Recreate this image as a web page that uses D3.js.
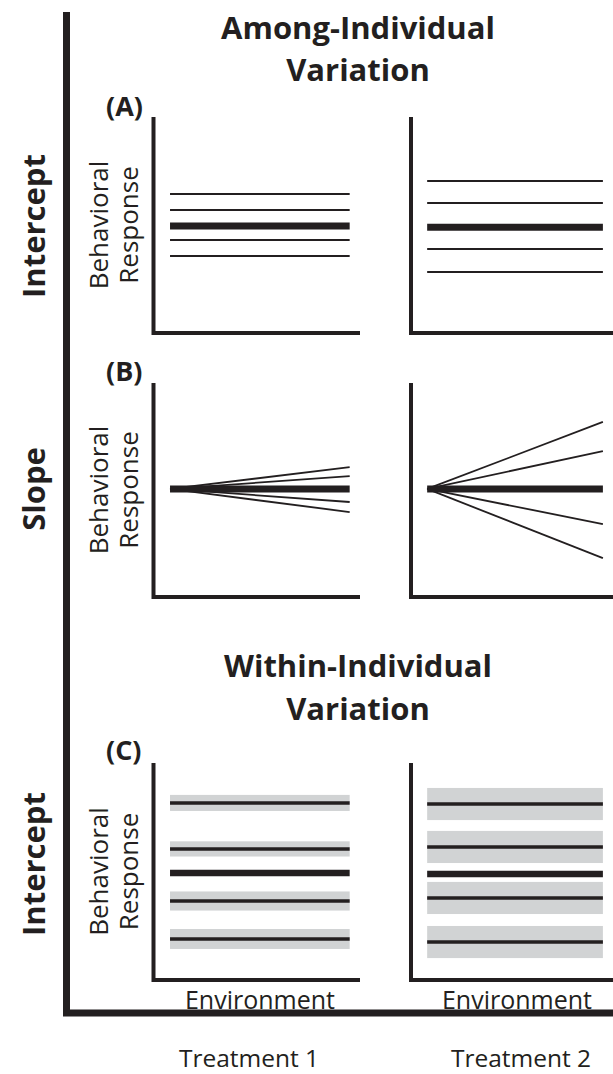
<!DOCTYPE html>
<html>
<head>
<meta charset="utf-8">
<script src="https://cdn.jsdelivr.net/npm/d3@7"></script>
<style>
  html, body { margin: 0; padding: 0; background: #fff; }
  svg { display: block; }
  text { fill: #231f20; font-family: "Open Sans", "DejaVu Sans", sans-serif; }
</style>
</head>
<body>
<svg id="chart" width="613" height="1074"></svg>
<script>
// ---- data -------------------------------------------------------------
const treatments = ["Treatment 1", "Treatment 2"];
const rowLabels = ["Intercept", "Slope", "Intercept"];
const panelTags = ["(A)", "(B)", "(C)"];
const sectionTitles = [["Among-Individual", "Variation"], ["Within-Individual", "Variation"]];
const yLabel = ["Behavioral", "Response"];
const xLabel = "Environment";

// response scale 0–100, environment scale 0–100
const envExtent = [8, 95];

// (A) among-individual intercepts: population mean + individual lines
const interceptMean = [49.5, 49];
const interceptT1 = [64.4, 56.9, 43.1, 35.6];
const interceptT2 = [70.4, 60.2, 38.9, 28.2];

// (B) among-individual slopes: all start at the mean, end values below
const slopeStart = [50.5, 50.5];
const slopeEndT1 = [60.7, 56.5, 44.4, 39.7];
const slopeEndT2 = [81.8, 68.2, 34.1, 18.2];

// (C) within-individual variation: individual means and spread
const withinMean = [49.3, 48.8];
const withinT1 = [81.6, 60.4, 36.4, 18.9];
const withinT1Spread = [3.7, 3.5, 4.4, 4.6];
const withinT2 = [81.1, 61.3, 37.8, 17.5];
const withinT2Spread = [7.4, 7.4, 7.4, 7.4];

// ---- layout -----------------------------------------------------------
const ink = "#231f20";
const band = "#d1d3d4";
const svg = d3.select("#chart");

const rowsBox = [
  { top: 117, bottom: 333 },
  { top: 383, bottom: 597 },
  { top: 763, bottom: 980 }
];
const colsBox = [
  { left: 153.5, right: 360 },
  { left: 411, right: 613 }
];

function scales(r, c) {
  const x = d3.scaleLinear().domain([0, 100]).range([colsBox[c].left, colsBox[c].right]);
  const y = d3.scaleLinear().domain([0, 100]).range([rowsBox[r].bottom, rowsBox[r].top]);
  return { x, y };
}

// outer bracket
svg.append("path")
  .attr("d", "M66.5,12 V1013 H613")
  .attr("fill", "none").attr("stroke", ink).attr("stroke-width", 7);

// section titles
const titleY = [[39, 81], [677, 720]];
sectionTitles.forEach((lines, i) => {
  lines.forEach((t, j) => {
    svg.append("text").attr("x", 358).attr("y", titleY[i][j])
      .attr("text-anchor", "middle").attr("font-size", 31).attr("font-weight", 700)
      .text(t);
  });
});

// row labels (rotated)
const rowCenters = [226, 489, 864];
rowLabels.forEach((t, i) => {
  svg.append("text")
    .attr("transform", `translate(45,${rowCenters[i]}) rotate(-90)`)
    .attr("text-anchor", "middle").attr("font-size", 31).attr("font-weight", 700)
    .text(t);
});

// panel tags
const tagY = [116, 381, 760];
panelTags.forEach((t, i) => {
  svg.append("text").attr("x", 106).attr("y", tagY[i])
    .attr("font-size", 27).attr("font-weight", 700).text(t);
});

// treatment labels
treatments.forEach((t, c) => {
  svg.append("text").attr("x", c === 0 ? 249 : 521).attr("y", 1067)
    .attr("text-anchor", "middle").attr("font-size", 24.5).text(t);
});

// axes for each panel
rowsBox.forEach((rb, r) => {
  colsBox.forEach((cb, c) => {
    const { x, y } = scales(r, c);
    const g = svg.append("g");
    g.append("path")
      .attr("d", `M${x(0)},${y(100)} V${y(0)} H${x(100)}`)
      .attr("fill", "none").attr("stroke", ink).attr("stroke-width", 4);
    // y label on the left column
    if (c === 0) {
      const cy = (rb.top + rb.bottom) / 2;
      yLabel.forEach((t, k) => {
        svg.append("text")
          .attr("transform", `translate(${108 + k * 30},${cy}) rotate(-90)`)
          .attr("text-anchor", "middle").attr("font-size", 26).text(t);
      });
    }
    if (r === 2) {
      svg.append("text").attr("x", c === 0 ? 260 : 517).attr("y", 1009)
        .attr("text-anchor", "middle").attr("font-size", 25).text(xLabel);
    }
  });
});

function hLine(g, x, y, v, w) {
  g.append("line")
    .attr("x1", x(envExtent[0])).attr("x2", x(envExtent[1]))
    .attr("y1", y(v)).attr("y2", y(v))
    .attr("stroke", ink).attr("stroke-width", w);
}

// (A) intercepts
[interceptT1, interceptT2].forEach((vals, c) => {
  const { x, y } = scales(0, c);
  const g = svg.append("g");
  vals.forEach(v => hLine(g, x, y, v, 2));
  hLine(g, x, y, interceptMean[c], 7);
});

// (B) slopes
[slopeEndT1, slopeEndT2].forEach((ends, c) => {
  const { x, y } = scales(1, c);
  const g = svg.append("g");
  const line = d3.line().x(d => x(d[0])).y(d => y(d[1]));
  ends.forEach(v => {
    g.append("path")
      .attr("d", line([[envExtent[0], slopeStart[c]], [envExtent[1], v]]))
      .attr("fill", "none").attr("stroke", ink).attr("stroke-width", 1.8);
  });
  hLine(g, x, y, slopeStart[c], 7);
});

// (C) within-individual variation
[[withinT1, withinT1Spread], [withinT2, withinT2Spread]].forEach(([vals, spread], c) => {
  const { x, y } = scales(2, c);
  const g = svg.append("g");
  vals.forEach((v, k) => {
    g.append("rect")
      .attr("x", x(envExtent[0])).attr("width", x(envExtent[1]) - x(envExtent[0]))
      .attr("y", y(v + spread[k])).attr("height", y(v - spread[k]) - y(v + spread[k]))
      .attr("fill", band);
  });
  vals.forEach(v => hLine(g, x, y, v, 3.5));
  hLine(g, x, y, withinMean[c], 6.5);
});
</script>
</body>
</html>
